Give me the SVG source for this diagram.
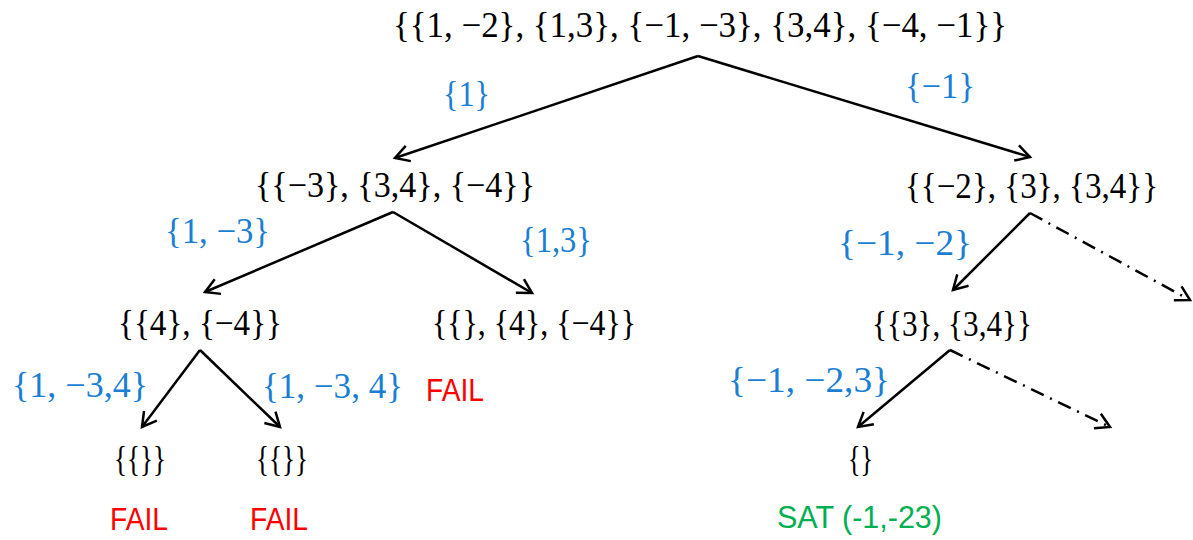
<svg xmlns="http://www.w3.org/2000/svg" width="1193" height="540" viewBox="0 0 1193 540">
<defs>
<marker id="arr" viewBox="0 0 20 20" refX="16" refY="10" markerWidth="20" markerHeight="20" markerUnits="userSpaceOnUse" orient="auto">
<path d="M2,2 L16,10 L2,18" fill="none" stroke="#000" stroke-width="2.5" stroke-linejoin="miter"/>
</marker>
<style>
.set{font-family:"Liberation Serif","DejaVu Serif",serif;font-size:36px;fill:#000}
.lbl{font-family:"Liberation Serif","DejaVu Serif",serif;font-size:36px;fill:#1a7fd4}
.fail{font-family:"Liberation Sans","Open Sans",sans-serif;font-size:31px;fill:#ff0000}
.sat{font-family:"Liberation Sans","Open Sans",sans-serif;font-size:31px;fill:#00b050}
.e{fill:none;stroke:#000;stroke-width:2.5;marker-end:url(#arr)}
.d{stroke-dasharray:14 7 2 7}
</style>
</defs>
<rect width="1193" height="540" fill="#fff"/>
<g id="connectors">
<line class="e" x1="698" y1="56" x2="395" y2="158"/>
<line class="e" x1="698" y1="56" x2="1030" y2="157"/>
<line class="e" x1="393" y1="212" x2="205" y2="292"/>
<line class="e" x1="393" y1="212" x2="532" y2="293"/>
<line class="e" x1="1030" y1="213" x2="953" y2="290"/>
<line class="e d" x1="1030" y1="213" x2="1190" y2="300"/>
<line class="e" x1="200" y1="350" x2="142" y2="427"/>
<line class="e" x1="200" y1="350" x2="280" y2="427"/>
<line class="e" x1="950" y1="350" x2="858" y2="427"/>
<line class="e d" x1="950" y1="350" x2="1110" y2="427"/>
</g>
<g id="edge-labels">
<text class="lbl" x="443" y="106" textLength="47" lengthAdjust="spacingAndGlyphs">{1}</text>
<text class="lbl" x="905" y="98" textLength="70" lengthAdjust="spacingAndGlyphs">{−1}</text>
<text class="lbl" x="165" y="243" textLength="105" lengthAdjust="spacingAndGlyphs">{1, −3}</text>
<text class="lbl" x="520" y="252" textLength="72" lengthAdjust="spacingAndGlyphs">{1,3}</text>
<text class="lbl" x="838" y="255" textLength="134" lengthAdjust="spacingAndGlyphs">{−1, −2}</text>
<text class="lbl" x="12" y="397" textLength="136" lengthAdjust="spacingAndGlyphs">{1, −3,4}</text>
<text class="lbl" x="262" y="398" textLength="141" lengthAdjust="spacingAndGlyphs">{1, −3, 4}</text>
<text class="lbl" x="728" y="392" textLength="162" lengthAdjust="spacingAndGlyphs">{−1, −2,3}</text>
</g>
<g id="n-root"><text class="set" x="393" y="37" textLength="614" lengthAdjust="spacingAndGlyphs">{{1, −2}, {1,3}, {−1, −3}, {3,4}, {−4, −1}}</text></g>
<g id="n-l"><text class="set" x="255" y="197" textLength="280" lengthAdjust="spacingAndGlyphs">{{−3}, {3,4}, {−4}}</text></g>
<g id="n-r"><text class="set" x="905" y="198" textLength="253" lengthAdjust="spacingAndGlyphs">{{−2}, {3}, {3,4}}</text></g>
<g id="n-ll"><text class="set" x="118" y="335" textLength="164" lengthAdjust="spacingAndGlyphs">{{4}, {−4}}</text></g>
<g id="n-lr"><text class="set" x="432" y="335" textLength="204" lengthAdjust="spacingAndGlyphs">{{}, {4}, {−4}}</text>
<text class="fail" x="426" y="401" textLength="58" lengthAdjust="spacingAndGlyphs">FAIL</text></g>
<g id="n-rl"><text class="set" x="872" y="336" textLength="160" lengthAdjust="spacingAndGlyphs">{{3}, {3,4}}</text></g>
<g id="n-lll"><text class="set" x="114" y="471" textLength="52" lengthAdjust="spacingAndGlyphs">{{}}</text>
<text class="fail" x="110" y="530" textLength="58" lengthAdjust="spacingAndGlyphs">FAIL</text></g>
<g id="n-llr"><text class="set" x="256" y="471" textLength="52" lengthAdjust="spacingAndGlyphs">{{}}</text>
<text class="fail" x="250" y="530" textLength="58" lengthAdjust="spacingAndGlyphs">FAIL</text></g>
<g id="n-rll"><text class="set" x="848" y="471" textLength="25" lengthAdjust="spacingAndGlyphs">{}</text>
<text class="sat" x="777" y="528" textLength="165" lengthAdjust="spacingAndGlyphs">SAT (-1,-23)</text></g>
</svg>
